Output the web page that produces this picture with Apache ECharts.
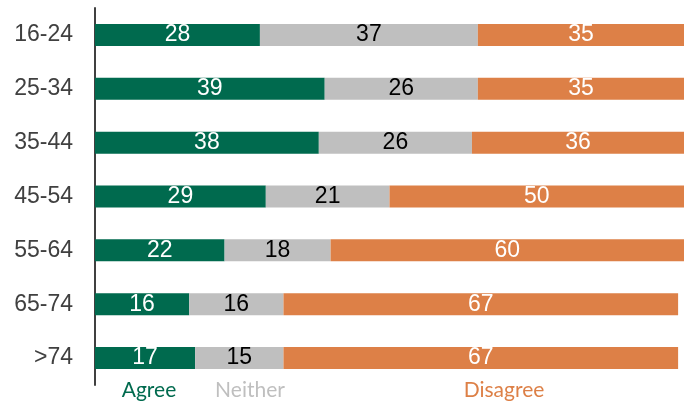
<!DOCTYPE html>
<html>
<head>
<meta charset="utf-8">
<script src="https://cdn.jsdelivr.net/npm/echarts@6/dist/echarts.min.js"></script>
<style>
  html, body { margin: 0; padding: 0; background: #fff; }
  #chart { width: 692px; height: 405px; }
</style>
</head>
<body>
<div id="chart"></div>
<script>
// Age groups, top to bottom
const ageGroups = ['16-24', '25-34', '35-44', '45-54', '55-64', '65-74', '>74'];
// Response shares (%) per age group
const agree    = [28, 39, 38, 29, 22, 16, 17];
const neither  = [37, 26, 26, 21, 18, 16, 15];
const disagree = [35, 35, 36, 50, 60, 67, 67];
const seriesNames = ['Agree', 'Neither', 'Disagree'];

const colors = ['#006A4E', '#BFBFBF', '#DD8047'];
const labelColors = ['#ffffff', '#000000', '#ffffff'];
const font = 'Liberation Sans, Arial, sans-serif';

const chart = echarts.init(document.getElementById('chart'));

function barSeries(name, data, idx) {
  return {
    name: name,
    type: 'bar',
    stack: 'total',
    data: data,
    barWidth: 22,
    itemStyle: { color: colors[idx] },
    label: {
      show: true,
      position: 'inside',
      color: labelColors[idx],
      fontFamily: font,
      fontSize: 23
    }
  };
}

// Caption centers under the bars
const captionX = [149, 250, 504];

chart.setOption({
  animation: false,
  grid: { left: 95, right: 8, top: 8, bottom: 20, containLabel: false },
  xAxis: {
    type: 'value',
    min: 0,
    max: 100,
    show: false
  },
  yAxis: {
    type: 'category',
    data: ageGroups,
    inverse: true,
    axisLine: { show: true, lineStyle: { color: '#404040', width: 2 } },
    axisTick: { show: false },
    axisLabel: {
      color: '#404040',
      fontFamily: font,
      fontSize: 23,
      margin: 22
    }
  },
  series: [
    barSeries(seriesNames[0], agree, 0),
    barSeries(seriesNames[1], neither, 1),
    barSeries(seriesNames[2], disagree, 2)
  ],
  graphic: seriesNames.map((n, i) => ({
    type: 'text',
    x: captionX[i],
    y: 390,
    style: {
      text: n,
      fill: colors[i],
      font: '21px Lato, "Open Sans", sans-serif',
      textAlign: 'center',
      textVerticalAlign: 'middle'
    }
  }))
});
</script>
</body>
</html>
